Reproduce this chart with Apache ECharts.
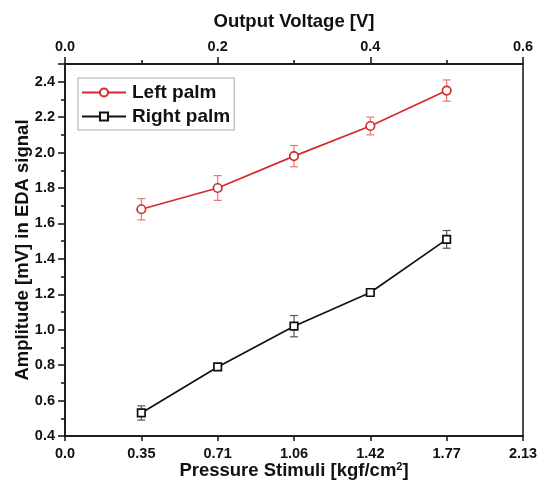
<!DOCTYPE html>
<html>
<head>
<meta charset="utf-8">
<script src="https://cdn.jsdelivr.net/npm/echarts@6/dist/echarts.min.js"></script>
<style>html,body{margin:0;padding:0;background:#fff;}#c{width:537px;height:483px;}</style>
</head>
<body>
<div id="c"></div>
<script>
// ---- data ----
var xTickLabels = ['0.0', '0.35', '0.71', '1.06', '1.42', '1.77', '2.13'];
var pressure = ['0.35', '0.71', '1.06', '1.42', '1.77'];
var leftPalm = [1.68, 1.80, 1.98, 2.15, 2.35];
var leftErr = [0.06, 0.07, 0.06, 0.05, 0.06];
var rightPalm = [0.53, 0.79, 1.02, 1.21, 1.51];
var rightErr = [0.04, 0.015, 0.06, 0.01, 0.05];
var voltageTicks = [0.0, 0.2, 0.4, 0.6];

var FONT = 'Liberation Sans, Arial, sans-serif';
var xIdx = pressure.map(function (p) { return xTickLabels.indexOf(p); });
function pts(vals) { return vals.map(function (v, i) { return [xIdx[i], v]; }); }
function errs(vals, e) { return vals.map(function (v, i) { return [xIdx[i], v - e[i], v + e[i]]; }); }
function errRender(color) {
  return function (params, api) {
    var lo = api.coord([api.value(0), api.value(1)]);
    var hi = api.coord([api.value(0), api.value(2)]);
    var w = 4;
    var st = { stroke: color, lineWidth: 1.2 };
    return { type: 'group', children: [
      { type: 'line', shape: { x1: lo[0], y1: lo[1], x2: hi[0], y2: hi[1] }, style: st },
      { type: 'line', shape: { x1: lo[0] - w, y1: lo[1], x2: lo[0] + w, y2: lo[1] }, style: st },
      { type: 'line', shape: { x1: hi[0] - w, y1: hi[1], x2: hi[0] + w, y2: hi[1] }, style: st }
    ]};
  };
}

var chart = echarts.init(document.getElementById('c'), null, { renderer: 'canvas' });
var axisLbl = { color: '#111', fontFamily: FONT, fontWeight: 'bold', fontSize: 14.5 };
var nameSty = { color: '#111', fontFamily: FONT, fontWeight: 'bold', fontSize: 18.5 };
chart.setOption({
  animation: false,
  backgroundColor: '#fff',
  grid: { left: 65, right: 14, top: 64, bottom: 47, outerBoundsMode: 'none', containLabel: false, show: true, borderColor: '#111', borderWidth: 1.5, backgroundColor: 'transparent' },
  legend: {
    left: 78, top: 78, orient: 'vertical',
    data: ['Left palm', 'Right palm'],
    itemWidth: 44, itemHeight: 10, itemGap: 5,
    borderColor: '#aaa', borderWidth: 1, padding: [5, 4, 4, 3],
    textStyle: { color: '#111', fontFamily: FONT, fontWeight: 'bold', fontSize: 19, padding: [0, 0, 0, 1] }
  },
  xAxis: [
    {
      type: 'category', position: 'bottom', data: xTickLabels, boundaryGap: false,
      axisLine: { lineStyle: { color: '#111', width: 1.5 } },
      axisTick: { inside: false, length: 5, lineStyle: { color: '#111', width: 1.5 } },
      axisLabel: Object.assign({ margin: 10, interval: 0 }, axisLbl),
      splitLine: { show: false },
      name: 'Pressure Stimuli [kgf/cm{sup|2}]', nameLocation: 'middle', nameGap: 25, nameMoveOverlap: false,
      nameTextStyle: Object.assign({ rich: { sup: { fontFamily: FONT, fontWeight: 'bold', fontSize: 11, verticalAlign: 'top', padding: [0, 0, 9, 0], color: '#111' } } }, nameSty)
    },
    {
      type: 'value', position: 'top', min: 0, max: 0.6, interval: 0.2,
      axisLine: { lineStyle: { color: '#111', width: 1.5 } },
      axisTick: { inside: false, length: 7, lineStyle: { color: '#111', width: 1.5 } },
      minorTick: { show: true, splitNumber: 2, length: 4, lineStyle: { color: '#111', width: 1.5 } },
      axisLabel: Object.assign({ margin: 10, formatter: function (v) { return v.toFixed(1); } }, axisLbl),
      splitLine: { show: false },
      name: 'Output Voltage [V]', nameLocation: 'middle', nameGap: 33, nameMoveOverlap: false, nameTextStyle: nameSty
    }
  ],
  yAxis: [
    {
      type: 'value', min: 0.4, max: 2.5, interval: 0.2,
      axisLine: { show: true, lineStyle: { color: '#111', width: 1.5 } },
      axisTick: { show: true, inside: false, length: 7, lineStyle: { color: '#111', width: 1.5 } },
      minorTick: { show: true, splitNumber: 2, length: 4, lineStyle: { color: '#111', width: 1.5 } },
      axisLabel: Object.assign({ margin: 10, showMaxLabel: false, formatter: function (v) { return v.toFixed(1); } }, axisLbl),
      splitLine: { show: false },
      name: 'Amplitude [mV] in EDA signal', nameLocation: 'middle', nameGap: 33, nameMoveOverlap: false, nameRotate: 90, nameTextStyle: nameSty
    }
  ],
  series: [
    {
      type: 'custom', name: 'lerr', xAxisIndex: 0, yAxisIndex: 0, z: 1,
      renderItem: errRender('#e07a7a'), data: errs(leftPalm, leftErr), silent: true
    },
    {
      type: 'custom', name: 'rerr', xAxisIndex: 0, yAxisIndex: 0, z: 1,
      renderItem: errRender('#555'), data: errs(rightPalm, rightErr), silent: true
    },
    {
      type: 'line', name: 'Left palm', xAxisIndex: 0, yAxisIndex: 0, z: 3,
      data: pts(leftPalm), symbol: 'circle', symbolSize: 8.5,
      lineStyle: { color: '#d42a2a', width: 1.7 },
      itemStyle: { color: '#fff', borderColor: '#d42a2a', borderWidth: 1.7 }
    },
    {
      type: 'line', name: 'Right palm', xAxisIndex: 0, yAxisIndex: 0, z: 3,
      data: pts(rightPalm), symbol: 'rect', symbolSize: 7.5,
      lineStyle: { color: '#111', width: 1.7 },
      itemStyle: { color: '#fff', borderColor: '#111', borderWidth: 1.7 }
    }
  ]
});
</script>
</body>
</html>
